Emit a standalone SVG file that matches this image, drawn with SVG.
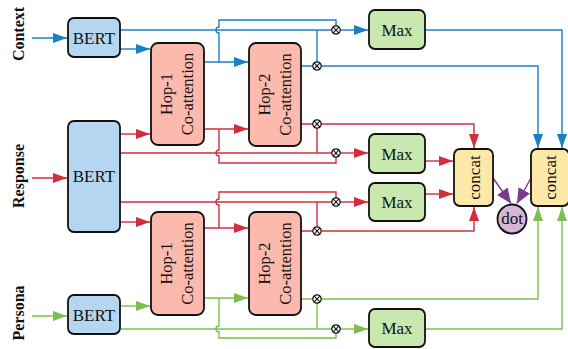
<svg xmlns="http://www.w3.org/2000/svg" width="568" height="349" viewBox="0 0 568 349">
<style>
.node{stroke:#111;stroke-width:1.8}
.bert{fill:#b4d6f0}.hop{fill:#fcb9ad}.max{fill:#c8e8af}.cat{fill:#fde8a8}.dot{fill:#d5b6d6}
.t{font-family:"Liberation Serif","Times New Roman",serif;font-size:17px;fill:#111;text-anchor:middle}
.h{font-size:16.5px}
.lab{font-family:"Liberation Serif","Times New Roman",serif;font-size:16px;font-weight:bold;fill:#111;text-anchor:middle}
.c{fill:none;stroke-width:1.4}
.b{stroke:#1b7fc4}.r{stroke:#d12f3c}.g{stroke:#7cbf4f}.p{stroke:#7b3b8c}
</style>
<defs>
<marker id="ab" markerUnits="userSpaceOnUse" markerWidth="14" markerHeight="10" viewBox="0 0 14 10" refX="14" refY="5" orient="auto"><path d="M0,0L14,5L0,10z" fill="#1b7fc4"/></marker>
<marker id="ar" markerUnits="userSpaceOnUse" markerWidth="14" markerHeight="10" viewBox="0 0 14 10" refX="14" refY="5" orient="auto"><path d="M0,0L14,5L0,10z" fill="#d12f3c"/></marker>
<marker id="ag" markerUnits="userSpaceOnUse" markerWidth="14" markerHeight="10" viewBox="0 0 14 10" refX="14" refY="5" orient="auto"><path d="M0,0L14,5L0,10z" fill="#7cbf4f"/></marker>
<marker id="ap" markerUnits="userSpaceOnUse" markerWidth="15" markerHeight="13" viewBox="0 0 15 13" refX="15" refY="6.5" orient="auto"><path d="M0,0L15,6.5L0,13z" fill="#7b3b8c"/></marker>
<g id="ot"><circle r="4.2" fill="#fff" stroke="#111" stroke-width="1.2"/><path d="M-2.8,-2.8L2.8,2.8M-2.8,2.8L2.8,-2.8" stroke="#111" stroke-width="1.1"/></g>
</defs>

<g id="labels">
<text class="lab" transform="translate(24,34) rotate(-90)">Context</text>
<text class="lab" transform="translate(24,176) rotate(-90)">Response</text>
<text class="lab" transform="translate(24,313) rotate(-90)">Persona</text>
</g>

<g id="connectors">
<!-- blue -->
<path class="c b" d="M32,38H67" marker-end="url(#ab)"/>
<path class="c b" d="M120,49H150" marker-end="url(#ab)"/>
<path class="c b" d="M120,30H336"/>
<path class="c b" d="M317,30V66"/>
<path class="c b" d="M204,62H248" marker-end="url(#ab)"/>
<path class="c b" d="M219,62V33A3,3 0 0 1 219,27V20H336V30"/>
<path class="c b" d="M340,30H368" marker-end="url(#ab)"/>
<path class="c b" d="M301,66H538V148" marker-end="url(#ab)"/>
<path class="c b" d="M425,30H562V148" marker-end="url(#ab)"/>
<!-- red -->
<path class="c r" d="M32,178H67" marker-end="url(#ar)"/>
<path class="c r" d="M120,134H150" marker-end="url(#ar)"/>
<path class="c r" d="M120,153H336"/>
<path class="c r" d="M317,153V124"/>
<path class="c r" d="M204,129H248" marker-end="url(#ar)"/>
<path class="c r" d="M219,129V150A3,3 0 0 0 219,156V163H336V153"/>
<path class="c r" d="M340,153H368" marker-end="url(#ar)"/>
<path class="c r" d="M301,124H474V148" marker-end="url(#ar)"/>
<path class="c r" d="M425,161H453" marker-end="url(#ar)"/>
<path class="c r" d="M425,194H453" marker-end="url(#ar)"/>
<path class="c r" d="M120,202H336"/>
<path class="c r" d="M317,202V231"/>
<path class="c r" d="M120,222H150" marker-end="url(#ar)"/>
<path class="c r" d="M204,228H248" marker-end="url(#ar)"/>
<path class="c r" d="M219,228V205A3,3 0 0 1 219,199V192H336V202"/>
<path class="c r" d="M340,202H368" marker-end="url(#ar)"/>
<path class="c r" d="M301,231H474V207" marker-end="url(#ar)"/>
<!-- green -->
<path class="c g" d="M32,316H67" marker-end="url(#ag)"/>
<path class="c g" d="M120,306H150" marker-end="url(#ag)"/>
<path class="c g" d="M120,329H336"/>
<path class="c g" d="M317,329V299"/>
<path class="c g" d="M204,298H248" marker-end="url(#ag)"/>
<path class="c g" d="M219,298V326A3,3 0 0 0 219,332V338H336V329"/>
<path class="c g" d="M340,329H368" marker-end="url(#ag)"/>
<path class="c g" d="M301,299H538V207" marker-end="url(#ag)"/>
<path class="c g" d="M425,329H562V207" marker-end="url(#ag)"/>
<!-- purple -->
<path class="c p" d="M493,178L511,203.5" marker-end="url(#ap)"/>
<path class="c p" d="M531,178L517,203.5" marker-end="url(#ap)"/>
<!-- multiply ops -->
<use href="#ot" x="336" y="30"/>
<use href="#ot" x="317" y="66"/>
<use href="#ot" x="317" y="124"/>
<use href="#ot" x="336" y="153"/>
<use href="#ot" x="336" y="202"/>
<use href="#ot" x="317" y="231"/>
<use href="#ot" x="317" y="299"/>
<use href="#ot" x="336" y="329"/>
</g>

<g id="bert-context"><rect class="node bert" x="68" y="18" width="52" height="39" rx="6"/><text class="t" x="94" y="43.5">BERT</text></g>
<g id="bert-response"><rect class="node bert" x="68" y="121" width="52" height="111" rx="6"/><text class="t" x="94" y="182">BERT</text></g>
<g id="bert-persona"><rect class="node bert" x="68" y="295" width="52" height="39" rx="6"/><text class="t" x="94" y="320.5">BERT</text></g>

<g id="hop1-top"><rect class="node hop" x="151" y="43" width="53" height="102" rx="7"/>
<text class="t h" transform="translate(172,94) rotate(-90)">Hop-1</text>
<text class="t h" transform="translate(193,94) rotate(-90)">Co-attention</text></g>
<g id="hop2-top"><rect class="node hop" x="249" y="43" width="52" height="103" rx="7"/>
<text class="t h" transform="translate(269.5,94.5) rotate(-90)">Hop-2</text>
<text class="t h" transform="translate(290.5,94.5) rotate(-90)">Co-attention</text></g>
<g id="hop1-bottom"><rect class="node hop" x="151" y="212" width="53" height="103" rx="7"/>
<text class="t h" transform="translate(172,263.5) rotate(-90)">Hop-1</text>
<text class="t h" transform="translate(193,263.5) rotate(-90)">Co-attention</text></g>
<g id="hop2-bottom"><rect class="node hop" x="249" y="212" width="52" height="103" rx="7"/>
<text class="t h" transform="translate(269.5,263.5) rotate(-90)">Hop-2</text>
<text class="t h" transform="translate(290.5,263.5) rotate(-90)">Co-attention</text></g>

<g id="max-context"><rect class="node max" x="369" y="10" width="56" height="39" rx="6"/><text class="t" x="397" y="35.5">Max</text></g>
<g id="max-response-1"><rect class="node max" x="369" y="134" width="56" height="39" rx="6"/><text class="t" x="397" y="159.5">Max</text></g>
<g id="max-response-2"><rect class="node max" x="369" y="183" width="56" height="38" rx="6"/><text class="t" x="397" y="208">Max</text></g>
<g id="max-persona"><rect class="node max" x="369" y="309" width="56" height="38" rx="6"/><text class="t" x="397" y="334">Max</text></g>

<g id="concat-1"><rect class="node cat" x="454" y="149" width="39" height="57" rx="6"/>
<text class="t" transform="translate(479.5,177.5) rotate(-90)">concat</text></g>
<g id="concat-2"><rect class="node cat" x="531" y="149" width="38" height="57" rx="6"/>
<text class="t" transform="translate(556,177.5) rotate(-90)">concat</text></g>
<g id="dot"><circle class="node dot" cx="512" cy="219" r="14.5"/><text class="t" x="512" y="224">dot</text></g>
</svg>
